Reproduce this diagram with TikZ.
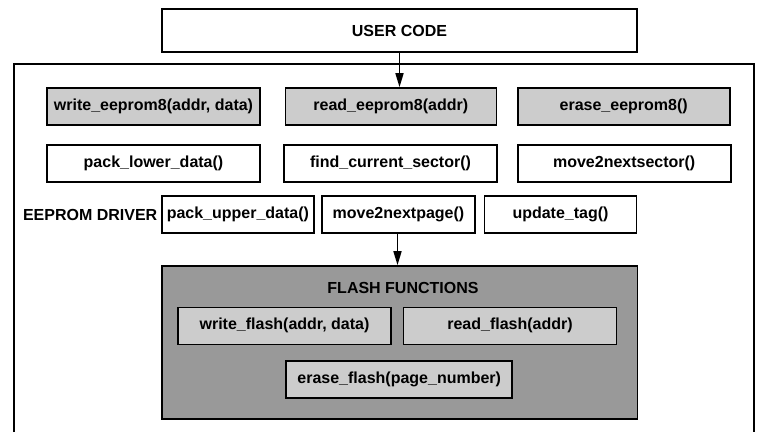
\documentclass[tikz,border=0pt]{standalone}
\usepackage{fontspec}
\setmainfont{Liberation Sans}
\usetikzlibrary{arrows.meta}
\definecolor{lightbox}{HTML}{CCCCCC}
\definecolor{darkbox}{HTML}{999999}
\begin{document}
\begin{tikzpicture}[x=1pt,y=-1pt,
  every node/.style={font=\fontsize{16}{19}\selectfont\bfseries, inner sep=0pt},
  fbox/.style={draw=black, line width=1.6pt, fill=white, minimum height=37pt},
  gbox/.style={fbox, fill=lightbox},
  flashbox/.style={draw=black, line width=1.6pt, fill=darkbox},
  arr/.style={line width=1.6pt, -{Triangle[length=14pt,width=8pt]}}]
\useasboundingbox (0,0) rectangle (771,432);
\fill[white] (0,0) rectangle (771,432);
% outer driver frame (bottom edge off page)
\coordinate (obl) at (14,432);
\coordinate (otr) at (754,64);
\coordinate (obr) at (754,432);
\draw[line width=2.2pt] (obl) |- (otr) -- (obr);
% user code
\node[fbox, minimum width=475pt, minimum height=43pt] (user) at (399.5,30.5) {USER CODE};
% row 1
\node[gbox, minimum width=213pt] (wee) at (153.5,106.5) {write\_eeprom8(addr, data)};
\node[gbox, minimum width=211pt] (ree) at (390.8,106.5) {read\_eeprom8(addr)};
\node[gbox, minimum width=212pt] (eee) at (623.7,106.5) {erase\_eeprom8()};
% row 2
\node[fbox, minimum width=213pt] (pld) at (153.5,163.5) {pack\_lower\_data()};
\node[fbox, minimum width=213pt] (fcs) at (390.5,163.5) {find\_current\_sector()};
\node[fbox, minimum width=213pt] (mns) at (624.2,163.5) {move2nextsector()};
% row 3
\node[fbox, minimum width=152pt] (pud) at (237.9,214.7) {pack\_upper\_data()};
\node[fbox, minimum width=153pt] (mnp) at (398.5,214.7) {move2nextpage()};
\node[fbox, minimum width=152pt] (utg) at (560.5,214.7) {update\_tag()};
\node[anchor=east] (drv) at (157.5,214.7) {EEPROM DRIVER};
% flash
\node[flashbox, minimum width=475.6pt, minimum height=153pt] (flash) at (399.5,342.5) {};
\node (ftitle) at (403,288) {FLASH FUNCTIONS};
\node[gbox, minimum width=213pt] (wfl) at (284.5,325.8) {write\_flash(addr, data)};
\node[gbox, minimum width=213pt] (rfl) at (510,325.8) {read\_flash(addr)};
\node[gbox, minimum width=226pt] (efl) at (399.2,379.3) {erase\_flash(page\_number)};
% arrows
\draw[arr] (user.south) -- (user.south |- ree.north);
\draw[arr] ([xshift=-1pt]mnp.south) -- ([xshift=-1pt]mnp.south |- flash.north);
\end{tikzpicture}
\end{document}
